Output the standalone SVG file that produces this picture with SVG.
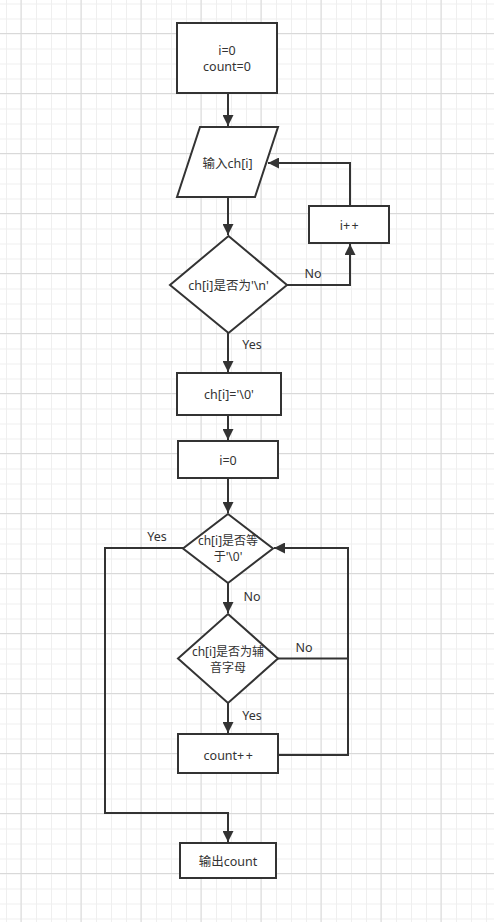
<svg xmlns="http://www.w3.org/2000/svg" width="494" height="922" viewBox="0 0 494 922">
<style>
.n{fill:#fff;stroke:#333;stroke-width:2}
.c{fill:none;stroke:#333;stroke-width:2}
text{font-family:"Noto Sans","Noto Sans CJK SC",sans-serif;font-size:12.5px;fill:#333;text-anchor:middle;dominant-baseline:central}
.s{font-size:12px}
.p{letter-spacing:1.5px}
</style>
<defs>
<pattern id="minor" x="6" y="3.5" width="15" height="15" patternUnits="userSpaceOnUse">
<path d="M0 0.5H15M0.5 0V15" stroke="#efefef" stroke-width="1" fill="none"/>
</pattern>
<pattern id="major" x="20.5" y="33" width="60" height="60" patternUnits="userSpaceOnUse">
<path d="M0 0.5H60M0.5 0V60" stroke="#d9d9d9" stroke-width="1" fill="none"/>
</pattern>
<marker id="a" viewBox="0 0 10 10" refX="10" refY="5" markerWidth="5.5" markerHeight="5.5" orient="auto">
<path d="M0 0L10 5L0 10z" fill="#333"/>
</marker>
</defs>
<rect width="494" height="922" fill="#fff"/>
<rect width="494" height="922" fill="url(#minor)"/>
<rect width="494" height="922" fill="url(#major)"/>
<g id="connectors">
<path class="c" d="M228 93V126" marker-end="url(#a)"/>
<path class="c" d="M228 197V235" marker-end="url(#a)"/>
<path class="c" d="M287 285H350V244" marker-end="url(#a)"/>
<path class="c" d="M350 206V163H268" marker-end="url(#a)"/>
<path class="c" d="M228 333V372" marker-end="url(#a)"/>
<path class="c" d="M228 415V440" marker-end="url(#a)"/>
<path class="c" d="M228 478V513" marker-end="url(#a)"/>
<path class="c" d="M228 583V613" marker-end="url(#a)"/>
<path class="c" d="M228 703V733" marker-end="url(#a)"/>
<path class="c" d="M278 658.5H348"/>
<path class="c" d="M278 755H348V548H274" marker-end="url(#a)"/>
<path class="c" d="M183 548H105V813H228V842" marker-end="url(#a)"/>
<text x="313" y="273">No</text>
<text x="252" y="344">Yes</text>
<text x="157" y="536">Yes</text>
<text x="252" y="596">No</text>
<text x="304" y="647">No</text>
<text x="252" y="715">Yes</text>
</g>
<g id="init">
<rect class="n" x="177" y="23" width="100" height="70"/>
<text x="227" y="50">i=0</text>
<text x="227" y="66">count=0</text>
</g>
<g id="input">
<polygon class="n" points="200,127 278,127 255,197 177,197"/>
<text x="227.5" y="163">输入ch[i]</text>
</g>
<g id="check-newline">
<polygon class="n" points="228.5,236 287,285 228.5,333 170,285"/>
<text x="228.5" y="285">ch[i]是否为'\n'</text>
</g>
<g id="inc-i">
<rect class="n" x="309" y="206" width="80" height="37"/>
<text x="350" y="225">i<tspan class="p">++</tspan></text>
</g>
<g id="set-null">
<rect class="n" x="177" y="373" width="104" height="42"/>
<text x="229" y="394">ch[i]='\0'</text>
</g>
<g id="reset-i">
<rect class="n" x="178" y="441" width="100" height="37"/>
<text x="228" y="460">i=0</text>
</g>
<g id="check-end">
<polygon class="n" points="228,514 273,548.5 228,583 183,548.5"/>
<text x="228" y="540" class="s">ch[i]是否等</text>
<text x="228" y="556" class="s">于'\0'</text>
</g>
<g id="check-consonant">
<polygon class="n" points="228,614 278,658.5 228,703 178,658.5"/>
<text x="228" y="651" class="s">ch[i]是否为辅</text>
<text x="228" y="667" class="s">音字母</text>
</g>
<g id="inc-count">
<rect class="n" x="178" y="734" width="100" height="39"/>
<text x="229" y="755">count<tspan class="p">++</tspan></text>
</g>
<g id="output">
<rect class="n" x="180" y="843" width="96" height="35"/>
<text x="228" y="861">输出count</text>
</g>
</svg>
